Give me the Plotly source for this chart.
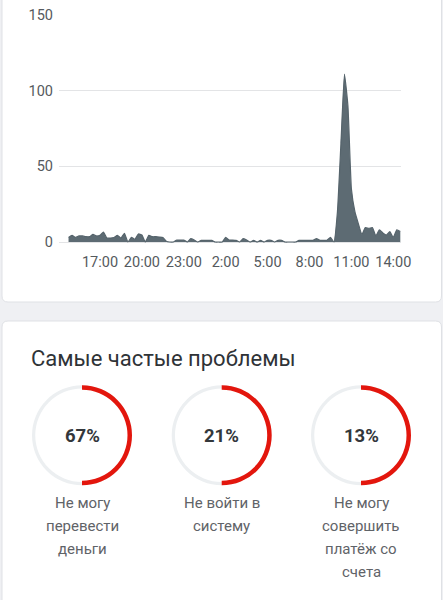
import pandas as pd
import plotly.graph_objects as go

# ---------------- data ----------------
start_time = "2024-01-01 14:45"
step = "15min"
counts = [3, 4.4, 3, 4, 4, 3.5, 3.5, 5, 4, 4.4,
          6.5, 2.6, 2.6, 3, 4.4, 2.6, 5.7, 0, 3, 1.8,
          5.3, 4.6, 0, 4.4, 3.5, 3.5, 3.3, 3, 0.5, 0,
          0, 1.3, 1.3, 1.3, 0, 2.2, 1.3, 0, 1.1, 1.1,
          1.1, 1.1, 0, 0, 0, 3, 1.3, 1.3, 1.1, 0,
          2.2, 1.3, 0, 1.1, 0, 1.1, 0, 1.1, 1.1, 0,
          1.1, 1.1, 0, 0, 0, 0, 1.1, 1.1, 1.1, 1.1,
          1.1, 2.2, 1.1, 1.1, 1.1, 3, 0, 20, 65, 111,
          90, 35, 20, 12, 5, 9.6, 9, 9.6, 4, 8,
          6, 4.6, 6.8, 3, 8, 7]
times = pd.date_range(start_time, periods=len(counts), freq=step)

x_tick_times = ["2024-01-01 17:00", "2024-01-01 20:00", "2024-01-01 23:00",
                "2024-01-02 02:00", "2024-01-02 05:00", "2024-01-02 08:00",
                "2024-01-02 11:00", "2024-01-02 14:00"]
x_tick_labels = ["17:00", "20:00", "23:00", "2:00", "5:00", "8:00", "11:00", "14:00"]
y_tick_vals = [0, 50, 100, 150]

section_title = "Самые частые проблемы"
problem_pcts = [67, 21, 13]
problem_labels = [["Не могу", "перевести", "деньги"],
                  ["Не войти в", "систему"],
                  ["Не могу", "совершить", "платёж со", "счета"]]
ring_share = [50, 50, 50]   # drawn red arc share (as seen in picture)

# ---------------- layout helpers ----------------
W, H = 443, 600
def PX(x):
    return x / W
def PY(y):
    return 1 - y / H

def rounded_rect(x0, y0, x1, y1, r):
    X0, X1 = PX(x0), PX(x1)
    Y0, Y1 = PY(y0), PY(y1)
    rx, ry = r / W, r / H
    return (f"M {X0+rx},{Y0} L {X1-rx},{Y0} Q {X1},{Y0} {X1},{Y0-ry} "
            f"L {X1},{Y1+ry} Q {X1},{Y1} {X1-rx},{Y1} L {X0+rx},{Y1} "
            f"Q {X0},{Y1} {X0},{Y1+ry} L {X0},{Y0-ry} Q {X0},{Y0} {X0+rx},{Y0} Z")

fig = go.Figure()

fig.add_trace(go.Scatter(
    x=times, y=counts, mode="lines", fill="tozeroy",
    line=dict(color="#56646c", width=1.2, shape="spline", smoothing=0.4),
    fillcolor="#5d6b73", hoverinfo="skip", showlegend=False,
))

# donuts
centers_x = [82, 221.7, 361]
cy = 435.3
R = 50
red = "#e3160d"
track = "#eceff1"
line_y0 = 503.3
line_gap = 23
annotations = []
for cx, pct, lines, share in zip(centers_x, problem_pcts, problem_labels, ring_share):
    dom = dict(x=[PX(cx - R), PX(cx + R)], y=[PY(cy + R), PY(cy - R)])
    fig.add_trace(go.Pie(values=[1], marker=dict(colors=[track], line=dict(width=0)),
                         hole=0.935, domain=dom, textinfo="none", hoverinfo="skip",
                         showlegend=False, sort=False))
    fig.add_trace(go.Pie(values=[share, 100 - share],
                         marker=dict(colors=[red, "rgba(0,0,0,0)"], line=dict(width=0)),
                         hole=0.91, domain=dom, textinfo="none", hoverinfo="skip",
                         showlegend=False, sort=False, direction="clockwise", rotation=0))
    annotations.append(dict(x=PX(cx), y=PY(cy + 1), xref="paper", yref="paper",
                            text=f"<b>{pct}%</b>", showarrow=False,
                            font=dict(family="Roboto", size=18.5, color="#33373b"),
                            xanchor="center", yanchor="middle"))
    for k, ln in enumerate(lines):
        annotations.append(dict(x=PX(cx), y=PY(line_y0 + k * line_gap), xref="paper", yref="paper",
                                text=ln, showarrow=False, align="center",
                                font=dict(family="Roboto", size=15, color="#5f6368"),
                                xanchor="center", yanchor="middle"))

annotations.append(dict(x=PX(29), y=PY(358), xref="paper", yref="paper",
                        text=section_title, showarrow=False,
                        font=dict(family="Roboto", size=22, color="#2f3337"),
                        xanchor="left", yanchor="middle"))

shapes = [
    dict(type="path", path=rounded_rect(2, -20, 441.5, 302, 6), xref="paper", yref="paper",
         fillcolor="white", line=dict(color="#dfe1e5", width=1), layer="below"),
    dict(type="path", path=rounded_rect(2, 321, 441.5, 640, 6), xref="paper", yref="paper",
         fillcolor="white", line=dict(color="#dfe1e5", width=1), layer="below"),
]

y_lo = -1.5
fig.update_layout(
    width=W, height=H,
    margin=dict(l=0, r=0, t=0, b=0, autoexpand=False),
    paper_bgcolor="#eff0f3",
    plot_bgcolor="rgba(0,0,0,0)",
    shapes=shapes,
    annotations=annotations,
    showlegend=False,
    xaxis=dict(domain=[PX(59), PX(401)], type="date",
               range=["2024-01-01 14:04", "2024-01-02 14:33"],
               tickvals=x_tick_times, ticktext=x_tick_labels,
               showgrid=False, zeroline=False, showline=False, ticks="",
               tickfont=dict(family="Roboto", size=14.5, color="#555a5e"),
               ticklabelstandoff=7, fixedrange=True, automargin=False),
    yaxis=dict(domain=[PY(242 + 1.513 * 1.5), PY(15)],
               range=[y_lo, 150],
               tickvals=y_tick_vals, showgrid=True, gridcolor="#e3e4e6", gridwidth=1,
               zeroline=False, showline=False, ticks="",
               tickfont=dict(family="Roboto", size=14.5, color="#555a5e"),
               ticklabelstandoff=5, fixedrange=True, automargin=False),
)

fig.write_html(
    "out.html",
    config={"displayModeBar": False},
    post_script="document.body.style.margin='0';document.body.style.padding='0';"
                "document.body.style.overflow='hidden';"
                "document.body.style.background='#eff0f3';",
)
